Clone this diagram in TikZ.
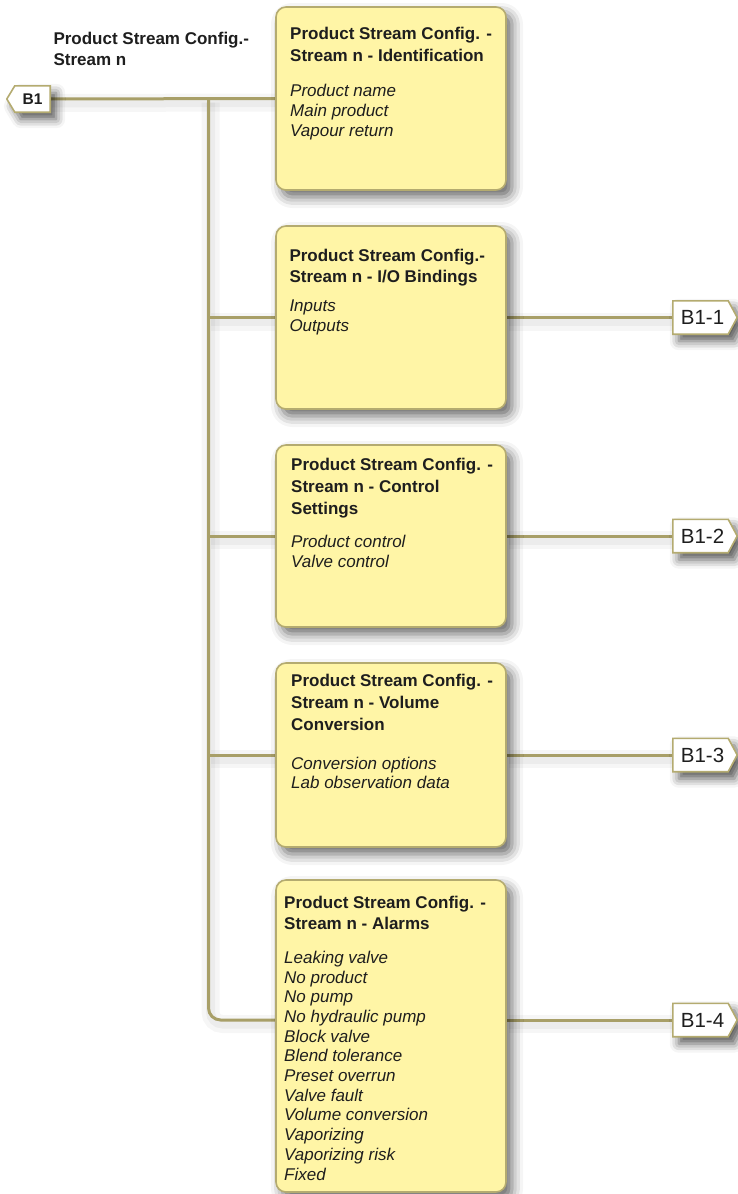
\documentclass[tikz,border=0pt]{standalone}
\usepackage{fontspec}
\setmainfont{Liberation Sans}
\usetikzlibrary{calc,shadows.blur}
\definecolor{cardfill}{HTML}{FFF5A6}
\definecolor{cardedge}{HTML}{B4AB70}
\definecolor{wire}{HTML}{A89F68}
\definecolor{ink}{HTML}{1E1E1E}
\pgfdeclarelayer{wires}
\pgfsetlayers{wires,main}
\tikzset{
  card/.style={draw=cardedge, line width=1.6pt, fill=cardfill, rounded corners=10pt,
    minimum width=230pt, inner sep=0pt,
    blur shadow={shadow xshift=6pt, shadow yshift=-7pt, shadow blur radius=11pt, shadow opacity=60}},
  headline/.style={anchor=base west, inner sep=0pt, text=ink, font=\fontsize{17}{20}\selectfont\bfseries},
  itemline/.style={anchor=base west, inner sep=0pt, text=ink, font=\fontsize{17}{20}\selectfont\itshape},
  wireline/.style={draw=wire, line width=3pt,
    preaction={draw=black, opacity=0.035, line width=18pt, transform canvas={shift={(2pt,-4pt)}}},
    preaction={draw=black, opacity=0.04, line width=9pt, transform canvas={shift={(2pt,-4pt)}}}},
  tagbody/.style={inner sep=0pt, text=ink},
  tagedge/.style={draw=cardedge, line width=1.6pt, fill=white, line join=miter,
    blur shadow={shadow xshift=6pt, shadow yshift=-7pt, shadow blur radius=9pt, shadow opacity=65}},
}
\begin{document}
\begin{tikzpicture}[x=1pt, y=-1pt]
\useasboundingbox (0,0) rectangle (737,1194);

% heading of the branch
\node[headline] (title1) at (53.3,44) {Product Stream Config.-};
\node[headline] (title2) at (53.3,65) {Stream n};

% incoming reference tag
\node[tagbody, minimum width=35pt, minimum height=26pt] (b1) at (32.5,99) {};
\draw[tagedge] (b1.north east) -- (b1.north west) -- ($(b1.west)+(-8,0)$) -- (b1.south west) -- (b1.south east) -- cycle;
\node[tagbody, font=\fontsize{15.5}{18}\selectfont\bfseries] (b1txt) at (b1.center) {B1};

% cards
\node[card, minimum height=183pt] (idn) at (391,98.5) {};
\node[card, minimum height=183pt] (iob) at (391,317.5) {};
\node[card, minimum height=182pt] (ctl) at (391,536) {};
\node[card, minimum height=184pt] (vol) at (391,755) {};
\node[card, minimum height=312pt] (alm) at (391,1036) {};

% outgoing reference tags
\foreach \name/\yy/\lbl in {t1/317.5/B1-1, t2/536/B1-2, t3/755/B1-3, t4/1020/B1-4} {
  \node[tagbody, minimum width=55pt, minimum height=33pt] (\name) at (700.5,\yy) {};
  \draw[tagedge] (\name.north west) -- (\name.north east) -- ($(\name.east)+(9,0)$)
    -- (\name.south east) -- (\name.south west) -- cycle;
  \node[tagbody, font=\fontsize{20.5}{24}\selectfont] (\name txt) at ($(\name.center)+(2,0)$) {\lbl};
}

% connectors
\coordinate (trunkTop) at (208.5,98.5);
\coordinate (trunkBot) at (208.5,1020);
\begin{pgfonlayer}{wires}
  \draw[wireline] (b1.east) -- (idn.west);
  \draw[wireline, rounded corners=12pt] (trunkTop) -- (trunkBot) -- (alm.west |- trunkBot);
  \draw[wireline] (iob.west -| trunkTop) -- (iob.west);
  \draw[wireline] (ctl.west -| trunkTop) -- (ctl.west);
  \draw[wireline] (vol.west -| trunkTop) -- (vol.west);
  \draw[wireline] (iob.east) -- (t1.west);
  \draw[wireline] (ctl.east) -- (t2.west);
  \draw[wireline] (vol.east) -- (t3.west);
  \draw[wireline] (alm.east |- t4) -- (t4.west);
\end{pgfonlayer}

% card texts
\node[headline] (idn-h1) at (290,39.3) {Product Stream Config. -};
\node[headline] (idn-h2) at (290,61) {Stream n - Identification};
\foreach \t [count=\i from 0] in {Product name, Main product, Vapour return}
  \node[itemline] (idn-i\i) at (290,96.7+\i*19.7) {\t};

\node[headline] (iob-h1) at (289.3,261.7) {Product Stream Config.-};
\node[headline] (iob-h2) at (289.3,282.7) {Stream n - I/O Bindings};
\foreach \t [count=\i from 0] in {Inputs, Outputs}
  \node[itemline] (iob-i\i) at (289.3,311.7+\i*20) {\t};

\node[headline] (ctl-h1) at (291,470) {Product Stream Config. -};
\node[headline] (ctl-h2) at (291,492.2) {Stream n - Control};
\node[headline] (ctl-h3) at (291,514.4) {Settings};
\foreach \t [count=\i from 0] in {Product control, Valve control}
  \node[itemline] (ctl-i\i) at (291,547.3+\i*20) {\t};

\node[headline] (vol-h1) at (291,686.7) {Product Stream Config. -};
\node[headline] (vol-h2) at (291,708.3) {Stream n - Volume};
\node[headline] (vol-h3) at (291,730) {Conversion};
\foreach \t [count=\i from 0] in {Conversion options, Lab observation data}
  \node[itemline] (vol-i\i) at (291,769+\i*19.5) {\t};

\node[headline] (alm-h1) at (284,908.3) {Product Stream Config. -};
\node[headline] (alm-h2) at (284,929.8) {Stream n - Alarms};
\foreach \t [count=\i from 0] in {Leaking valve, No product, No pump, No hydraulic pump,
    Block valve, Blend tolerance, Preset overrun, Valve fault, Volume conversion,
    Vaporizing, Vaporizing risk, Fixed}
  \node[itemline] (alm-i\i) at (284,963.3+\i*19.7) {\t};
\end{tikzpicture}
\end{document}
